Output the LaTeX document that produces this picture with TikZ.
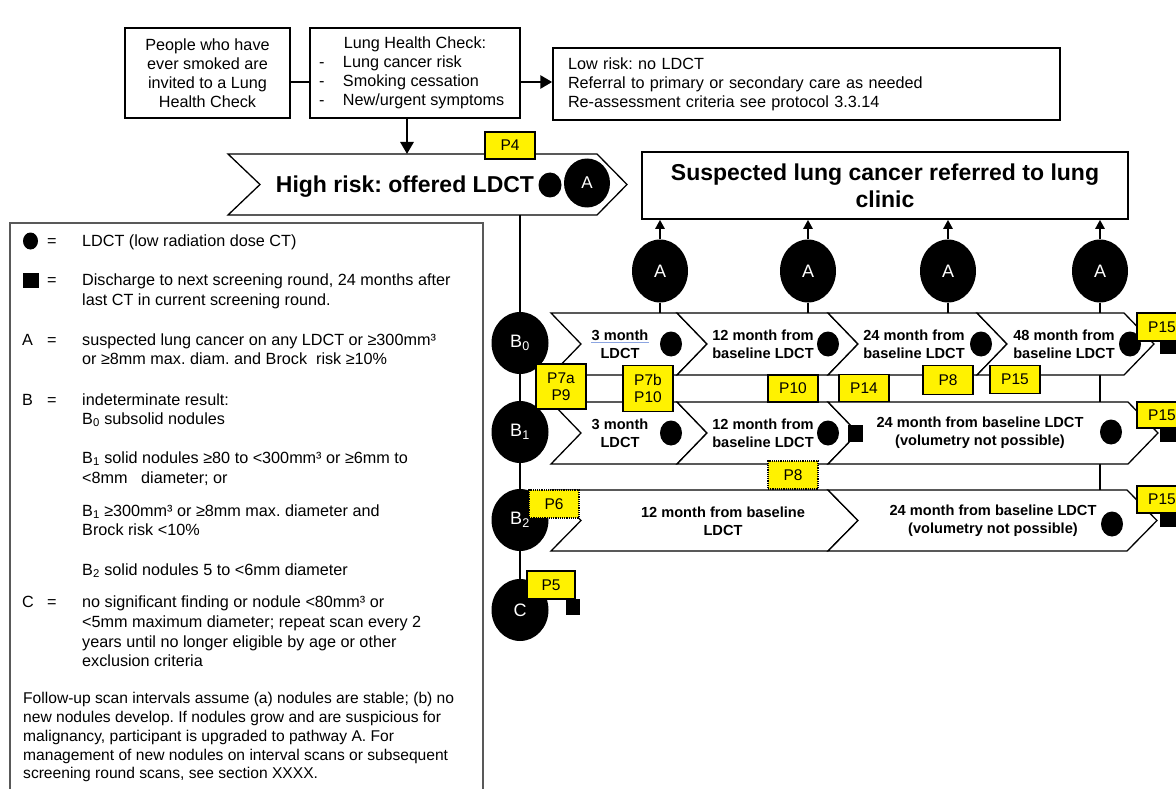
\documentclass[tikz,border=0pt]{standalone}
\usepackage{fontspec}
\setmainfont{Liberation Sans}
\usetikzlibrary{arrows.meta,shapes.geometric}
\newcommand{\chevshape}[4]{\draw[chev] (#1,#3) -- (#2,#3) -- ({#2+30},{(#3+#4)/2}) -- (#2,#4) -- (#1,#4) -- ({#1+30},{(#3+#4)/2}) -- cycle;}
\frenchspacing
\begin{document}
\frenchspacing
\begin{tikzpicture}[x=1pt,y=-1pt,
 box/.style={draw,line width=1.5pt,fill=white,inner sep=0pt},
 conn/.style={line width=2.8pt},
 arr/.style={line width=2.8pt,-{Triangle[length=12pt,width=13pt]}},
 sarr/.style={line width=2.4pt,-{Triangle[length=9pt,width=9pt]}},
 pbox/.style={draw,line width=1.2pt,fill=yellow,inner sep=0pt,minimum width=50pt,minimum height=27pt,align=center,font=\fontsize{15.5}{17}\selectfont},
 dotp/.style={pbox,densely dotted},
 ldot/.style={ellipse,fill=black,inner sep=0pt,minimum width=22pt,minimum height=25pt},
 bigc/.style={ellipse,fill=black,text=white,inner sep=0pt,minimum width=57pt,minimum height=62pt,font=\fontsize{18}{18}\selectfont},
 sqr/.style={rectangle,fill=black,inner sep=0pt,minimum width=15pt,minimum height=16pt},
 chev/.style={draw,line width=1.3pt,fill=white,line join=miter},
 ctext/.style={align=center,inner sep=0pt,font=\fontsize{14.6}{18}\selectfont\bfseries},
 leg/.style={anchor=base west,inner sep=0pt,font=\fontsize{16.2}{17}\selectfont},
 legf/.style={anchor=base west,inner sep=0pt,font=\fontsize{15.6}{17}\selectfont},
 t15/.style={font=\fontsize{16.2}{19}\selectfont},
]
\useasboundingbox (0,0) rectangle (1176,789);
\fill[white] (0,0) rectangle (1176,789);

% ---------- top boxes ----------
\node[box,t15,align=center,minimum width=165pt,minimum height=90pt] (ppl) at (207.5,73) {People who have\\ever smoked are\\invited to a Lung\\Health Check};
\node[box,t15,align=left,minimum width=210pt,minimum height=90pt] (lhc) at (415,73) {\makebox[192pt][c]{Lung Health Check:}\\\makebox[24pt][l]{-}Lung cancer risk\\\makebox[24pt][l]{-}Smoking cessation\\\makebox[24pt][l]{-}New/urgent symptoms};
\node[box,t15,align=left,text width=477pt,minimum width=507pt,minimum height=72pt] (low) at (806.5,84) {Low risk: no LDCT\\Referral to primary or secondary care as needed\\Re-assessment criteria see protocol 3.3.14};
\draw[conn] ([yshift=-9pt]ppl.east) -- ([yshift=-9pt]lhc.west);
\draw[arr] ([yshift=-9pt]lhc.east) -- ([yshift=-9pt]lhc.east -| low.west);
\coordinate (hrtop) at (407,154);
\draw[arr] (lhc.south -| hrtop) -- (hrtop);

% ---------- high risk chevron ----------
\draw[chev] (228,154) -- (597,154) -- (627,184.5) -- (597,215) -- (228,215) -- (260,184.5) -- cycle;
\node[anchor=base,inner sep=0pt,font=\fontsize{23}{26}\selectfont\bfseries] (hrt) at (405,193) {High risk: offered LDCT};
\node[ldot,minimum width=23pt,minimum height=25pt] (hrd) at (550,185) {};
\node[bigc,minimum width=46pt,minimum height=49pt,font=\fontsize{17}{17}\selectfont] (hrA) at (587,183) {A};
\node[pbox] (p4) at (510,145.5) {P4};

% ---------- suspected box ----------
\node[box,align=center,minimum width=486pt,minimum height=67pt,font=\fontsize{23}{27}\selectfont\bfseries] (sus) at (885,185.5) {Suspected lung cancer referred to lung\\clinic};

% ---------- A circles ----------
\foreach \i/\x in {1/660,2/808,3/948,4/1100}{
  \node[bigc,minimum width=56pt,minimum height=63pt] (A\i) at (\x,271) {A};
  \coordinate (ab\i) at (\x,313);
  \draw[sarr] (A\i.north) -- (A\i.north |- sus.south);
  \draw[conn] (A\i.south) -- (ab\i);
}

% ---------- connectors between rows ----------
\coordinate (v1a) at (1100,375); \coordinate (v1b) at (1100,402);
\coordinate (v2a) at (1100,464); \coordinate (v2b) at (1100,490);
\draw[conn] (v1a) -- (v1b);
\draw[conn] (v2a) -- (v2b);

% ---------- row B0 ----------
\chevshape{551}{677}{313}{375}
\chevshape{677}{828}{313}{375}
\chevshape{828}{977}{313}{375}
\chevshape{977}{1124}{313}{375}
\node[ctext] (r0a) at (620,344) {3 month\\LDCT};
\draw[line width=1pt,color={rgb,255:red,140;green,165;blue,225}] (591,342.5) -- (649,342.5);
\node[ctext] (r0b) at (763,344) {12 month from\\baseline LDCT};
\node[ctext] (r0c) at (914,344) {24 month from\\baseline LDCT};
\node[ctext] (r0d) at (1064,344) {48 month from\\baseline LDCT};
\node[ldot] (d01) at (671,344) {};
\node[ldot] (d02) at (828,344) {};
\node[ldot] (d03) at (981,344) {};
\node[ldot] (d04) at (1130,344) {};

% ---------- row B1 ----------
\chevshape{551}{677}{402}{464}
\chevshape{677}{828}{402}{464}
\chevshape{828}{1128}{402}{464}
\node[ctext] (r1a) at (620,433) {3 month\\LDCT};
\node[ctext] (r1b) at (763,433) {12 month from\\baseline LDCT};
\node[ctext] (r1c) at (980,433) {24 month from baseline LDCT\\(volumetry not possible)};
\node[ldot] (d11) at (671,433) {};
\node[ldot] (d12) at (828,433) {};
\node[ldot] (d13) at (1111,432) {};
\node[sqr,minimum width=15pt,minimum height=17pt] (s11) at (855,433) {};

% ---------- row B2 ----------
\chevshape{551}{828}{490}{551}
\chevshape{828}{1127}{490}{551}
\node[ctext] (r2a) at (723,521) {12 month from baseline\\LDCT};
\node[ctext] (r2b) at (993,521) {24 month from baseline LDCT\\(volumetry not possible)};
\node[ldot] (d21) at (1112,524) {};

% ---------- spine circles ----------
\coordinate (hrb) at (520,215);
\node[bigc] (B0) at (520,343) {B\textsubscript{0}};
\node[bigc] (B1) at (520,432) {B\textsubscript{1}};
\node[bigc] (B2) at (520,520) {B\textsubscript{2}};
\node[bigc] (C) at (520,610) {C};
\draw[conn] (hrb) -- (B0.north);
\draw[conn] (B0.south) -- (B1.north);
\draw[conn] (B1.south) -- (B2.north);
\draw[conn] (B2.south) -- (C.north);

% ---------- squares ----------
\node[sqr,minimum width=18pt,minimum height=14pt] (s0r) at (1169,347) {};
\node[sqr,minimum width=18pt,minimum height=14pt] (s1r) at (1169,435) {};
\node[sqr,minimum width=18pt,minimum height=14pt] (s2r) at (1169,520) {};
\node[sqr,minimum width=14pt,minimum height=16pt] (sC) at (573,607) {};

% ---------- P boxes ----------
\node[pbox,minimum height=45pt] (p7a) at (561,386.5) {P7a\\P9};
\node[pbox,minimum height=46pt] (p7b) at (648,388.5) {P7b\\P10};
\node[pbox] (p10) at (793,388.5) {P10};
\node[pbox,minimum width=50pt] (p14) at (864,388) {P14};
\node[pbox,minimum height=29pt] (p8a) at (948,380) {P8};
\node[pbox,minimum height=28pt] (p15a) at (1015,379.5) {P15};
\node[pbox,minimum height=28pt] (p15b) at (1162,327) {P15};
\node[pbox,minimum height=26pt] (p15c) at (1162,415) {P15};
\node[pbox,minimum height=27pt] (p15d) at (1162,499.5) {P15};
\node[dotp,minimum height=28pt] (p8b) at (793,475) {P8};
\node[dotp,minimum height=28pt] (p6) at (554,504) {P6};
\node[pbox,minimum width=48pt,minimum height=28pt] (p5) at (551,585) {P5};

% ---------- legend ----------
\draw[line width=1.2pt,black!65] (10,792) -- (10,223) -- (483,223) -- (483,792);
\node[ldot,minimum width=15pt,minimum height=17pt] (lgc) at (30.5,241) {};
\node[leg] (le1) at (47,246) {=};
\node[leg] (lt1) at (82,246) {LDCT (low radiation dose CT)};
\node[sqr,minimum width=16pt,minimum height=15pt] (lgs) at (31,280) {};
\node[leg] (le2) at (47,285) {=};
\node[leg] (lt2) at (82,285) {Discharge to next screening round, 24 months after};
\node[leg] (lt3) at (82,305) {last CT in current screening round.};
\node[leg] (lA) at (22,345) {A};
\node[leg] (le3) at (47,345) {=};
\node[leg] (lt4) at (82,345) {suspected lung cancer on any LDCT or ≥300mm³};
\node[leg] (lt5) at (82,364) {or ≥8mm max. diam. and Brock~ risk ≥10\%};
\node[leg] (lB) at (22,405) {B};
\node[leg] (le4) at (47,405) {=};
\node[leg] (lt6) at (82,405) {indeterminate result:};
\node[leg] (lt7) at (82,424) {B\textsubscript{0} subsolid nodules};
\node[leg] (lt8) at (82,463) {B\textsubscript{1} solid nodules ≥80 to <300mm³ or ≥6mm to};
\node[leg] (lt9) at (82,483) {<8mm~~~diameter; or};
\node[leg] (lt10) at (82,516) {B\textsubscript{1} ≥300mm³ or ≥8mm max. diameter and};
\node[leg] (lt11) at (82,535) {Brock risk <10\%};
\node[leg] (lt12) at (82,575) {B\textsubscript{2} solid nodules 5 to <6mm diameter};
\node[leg] (lC) at (22,607) {C};
\node[leg] (le5) at (47,607) {=};
\node[leg] (lt13) at (82,607) {no significant finding or nodule <80mm³ or};
\node[leg] (lt14) at (82,627) {<5mm maximum diameter; repeat scan every 2};
\node[leg] (lt15) at (82,647) {years until no longer eligible by age or other};
\node[leg] (lt16) at (82,666) {exclusion criteria};
\node[legf] (lt17) at (23,703) {Follow-up scan intervals assume (a) nodules are stable; (b) no};
\node[legf] (lt18) at (23,722) {new nodules develop. If nodules grow and are suspicious for};
\node[legf] (lt19) at (23,741) {malignancy, participant is upgraded to pathway A. For};
\node[legf] (lt20) at (23,760) {management of new nodules on interval scans or subsequent};
\node[legf] (lt21) at (23,778) {screening round scans, see section XXXX.};
\end{tikzpicture}
\end{document}
